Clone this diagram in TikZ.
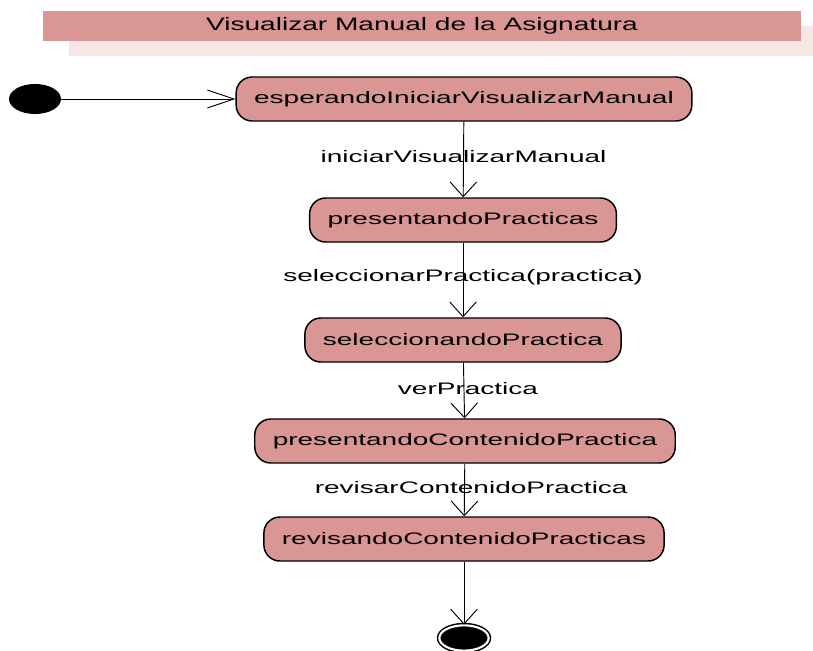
\documentclass[tikz,border=0pt]{standalone}
\usepackage{fontspec}
\setmainfont{Liberation Sans}[FakeStretch=1.68]
\newfontfamily\titulofont{Liberation Sans}[FakeStretch=1.56]
\usepackage{tikz}
\usetikzlibrary{arrows.meta,shapes.geometric}

\definecolor{rosa}{RGB}{217,150,148}
\definecolor{sombra}{RGB}{246,231,230}

\begin{document}
\begin{tikzpicture}[x=0.75pt, y=-0.75pt,
    font=\fontsize{12.5pt}{14pt}\selectfont,
    estado/.style={draw, line width=1.1pt, fill=rosa, rounded corners=12pt,
      minimum height=33pt, inner xsep=13.5pt},
    inicial/.style={ellipse, fill=black, inner sep=0pt,
      minimum width=39pt, minimum height=22.5pt},
    final/.style={ellipse, fill=black, draw, line width=1.1pt, double=white,
      double distance=1.6pt, inner sep=0pt, minimum width=37pt, minimum height=19pt},
    trans/.style={line width=0.7pt, -{Straight Barb[length=11pt, width=20pt]}},
    transh/.style={line width=0.7pt, -{Straight Barb[length=20pt, width=13.5pt]}},
    etiqueta/.style={inner sep=1pt, pos=0.46}]
  \useasboundingbox (0,0) rectangle (813,650);

  % titulo con su sombra
  \fill [sombra] (69,26) rectangle (813,56);
  \node [fill=rosa, inner sep=0pt, minimum width=568.5pt, minimum height=22.5pt,
    font=\titulofont\fontsize{13.5pt}{15pt}\selectfont]
    (titulo) at (422,26) {Visualizar Manual de la Asignatura};

  % estados
  \node [inicial] (ini) at (35,99) {};
  \node [estado] (s1) at (464,99) {esperandoIniciarVisualizarManual};
  \node [estado] (s2) at (463,220) {presentandoPracticas};
  \node [estado] (s3) at (463,340) {seleccionandoPractica};
  \node [estado] (s4) at (465,441) {presentandoContenidoPractica};
  \node [estado] (s5) at (464,539) {revisandoContenidoPracticas};
  \node [final] (fin) at (464,638) {};

  % transiciones
  \draw [transh] (ini) to (s1);
  \draw [trans] (s1) to node [etiqueta] {iniciarVisualizarManual} (s2);
  \draw [trans] (s2) to node [etiqueta] {seleccionarPractica(practica)} (s3);
  \draw [trans] (s3) to node [etiqueta, xshift=3pt] {verPractica} (s4);
  \draw [trans] (s4) to node [etiqueta, xshift=5pt] {revisarContenidoPractica} (s5);
  \draw [trans] (s5) to (fin);
\end{tikzpicture}
\end{document}
